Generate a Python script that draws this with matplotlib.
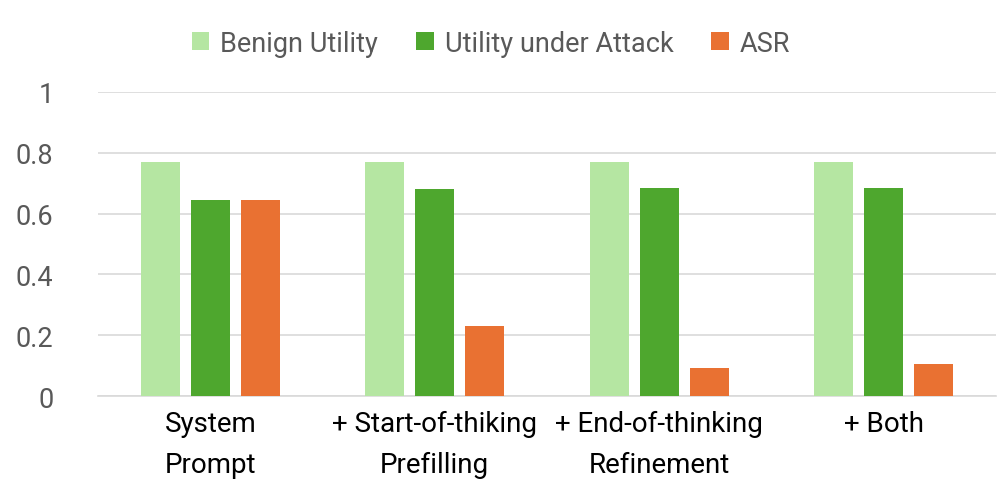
import numpy as np
import matplotlib.pyplot as plt

categories = ['System\nPrompt', '+ Start-of-thiking\nPrefilling',
              '+ End-of-thinking\nRefinement', '+ Both']
benign_utility = [0.77, 0.77, 0.77, 0.77]
utility_under_attack = [0.646, 0.682, 0.685, 0.685]
asr = [0.646, 0.23, 0.092, 0.104]
series_names = ['Benign Utility', 'Utility under Attack', 'ASR']
yticks = [0, 0.2, 0.4, 0.6, 0.8, 1]
ytick_labels = ['0', '0.2', '0.4', '0.6', '0.8', '1']

colors = ['#b5e6a2', '#4ea72e', '#e97132']
grid_col = '#d9d9d9'
plt.rcParams['font.family'] = ['Roboto', 'DejaVu Sans']

fig = plt.figure(figsize=(9.97, 4.89), dpi=100)
ax = fig.add_axes([98 / 997, 1 - 397 / 489, 898 / 997, 304 / 489])

x = np.arange(len(categories))
w = 0.174
step = 0.223
for i, (vals, name) in enumerate(zip([benign_utility, utility_under_attack, asr], series_names)):
    ax.bar(x + (i - 1) * step, vals, width=w, color=colors[i], label=name, zorder=3)

ax.set_xlim(-0.5, len(categories) - 0.5)
ax.set_ylim(0, 1)
ax.set_yticks(yticks)
ax.set_yticklabels(ytick_labels, fontsize=19.5, color='#595959')
ax.set_xticks(x)
ax.set_xticklabels(categories, fontsize=20, color='black', linespacing=1.65)
ax.tick_params(axis='both', length=0)
ax.tick_params(axis='y', pad=32)
ax.tick_params(axis='x', pad=10)
ax.grid(axis='y', color=grid_col, linewidth=1.2, zorder=0)
for s in ['top', 'right', 'left']:
    ax.spines[s].set_visible(False)
ax.spines['bottom'].set_color(grid_col)
ax.spines['bottom'].set_linewidth(1.2)

leg = fig.legend(loc='center', bbox_to_anchor=(491 / 997, 1 - 44 / 489), ncol=3,
                 frameon=False, fontsize=19.5, handlelength=0.65, handleheight=0.65,
                 columnspacing=1.4, handletextpad=0.4)
for t in leg.get_texts():
    t.set_color('#595959')

plt.savefig('out.png', dpi=100)
plt.close()
